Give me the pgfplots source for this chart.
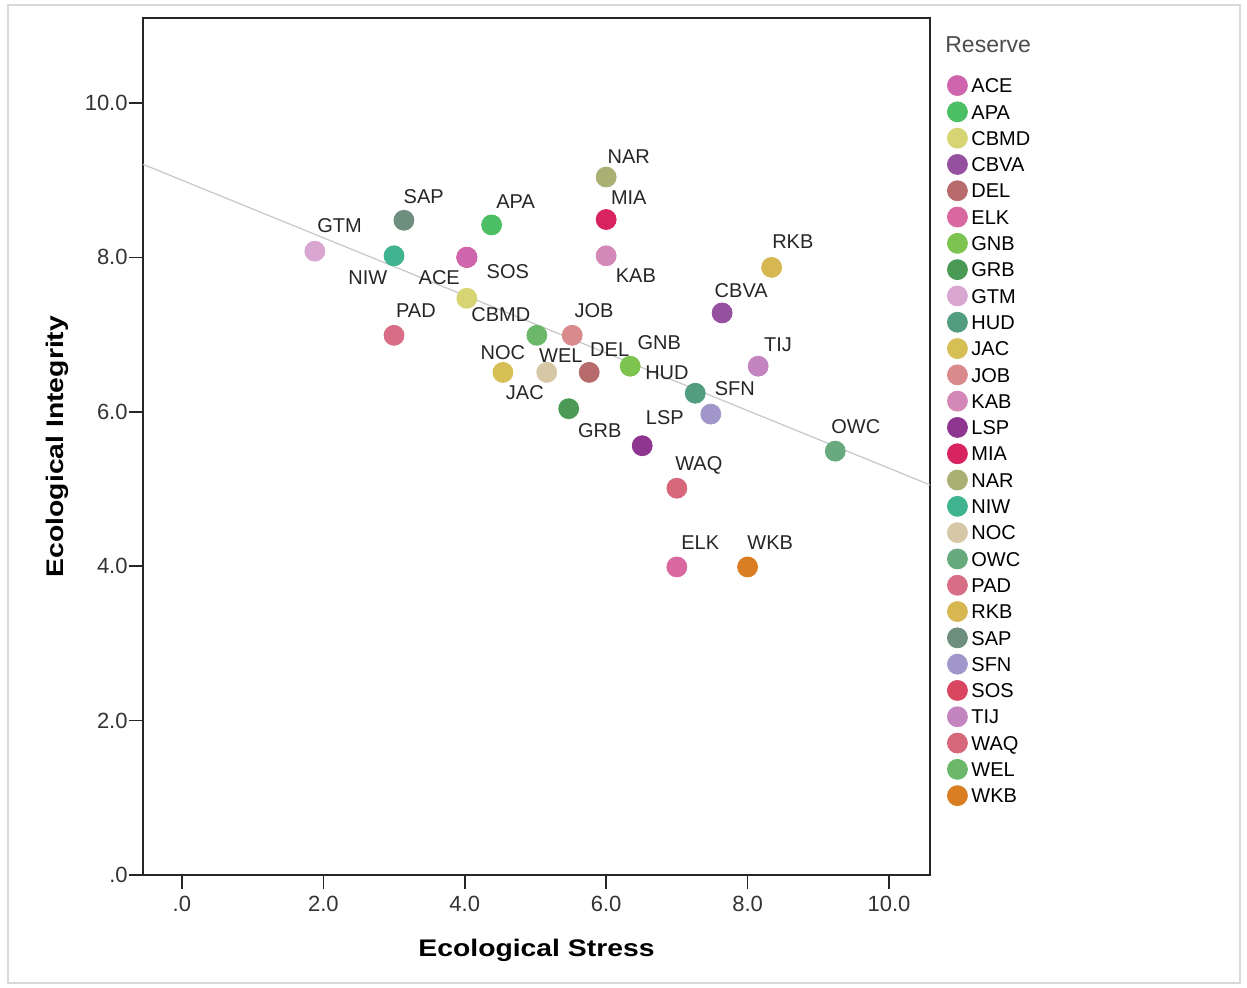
\documentclass[border=0pt]{standalone}
\usepackage{pgfplots}
\pgfplotsset{compat=1.18}
\usepackage{fontspec}
\setmainfont{Liberation Sans}
\newfontfamily\labfont[FakeStretch=1.18]{Liberation Sans}
\definecolor{cACE}{HTML}{CF66AD}
\definecolor{cAPA}{HTML}{4CBF64}
\definecolor{cCBMD}{HTML}{D6D473}
\definecolor{cCBVA}{HTML}{9650A0}
\definecolor{cDEL}{HTML}{B76B6C}
\definecolor{cELK}{HTML}{D8689F}
\definecolor{cGNB}{HTML}{7CC350}
\definecolor{cGRB}{HTML}{4A9A55}
\definecolor{cGTM}{HTML}{D8A6D0}
\definecolor{cHUD}{HTML}{529C7F}
\definecolor{cJAC}{HTML}{D6BF55}
\definecolor{cJOB}{HTML}{D88A8C}
\definecolor{cKAB}{HTML}{D488B8}
\definecolor{cLSP}{HTML}{8E3590}
\definecolor{cMIA}{HTML}{D72460}
\definecolor{cNAR}{HTML}{AAAF73}
\definecolor{cNIW}{HTML}{40B48F}
\definecolor{cNOC}{HTML}{D6C7A6}
\definecolor{cOWC}{HTML}{68AA7E}
\definecolor{cPAD}{HTML}{D86E86}
\definecolor{cRKB}{HTML}{D6B752}
\definecolor{cSAP}{HTML}{6E8F7E}
\definecolor{cSFN}{HTML}{A196CA}
\definecolor{cSOS}{HTML}{D84660}
\definecolor{cTIJ}{HTML}{C384BF}
\definecolor{cWAQ}{HTML}{D7687C}
\definecolor{cWEL}{HTML}{6CB86A}
\definecolor{cWKB}{HTML}{D97E23}
\begin{document}
\begin{tikzpicture}
\useasboundingbox (0,0) rectangle (623.5pt,-493.5pt);
\draw[black!15, line width=1pt] (4pt,-2.5pt) rectangle (620pt,-491.5pt);
\begin{axis}[
  at={(71.5pt,-437.5pt)}, anchor=south west,
  scale only axis, width=393.5pt, height=428.5pt,
  xmin=-0.55, xmax=10.58, ymin=0, ymax=11.1,
  axis line style={black!85, line width=0.9pt},
  xtick={0,2,4,6,8,10}, xticklabels={.0,2.0,4.0,6.0,8.0,10.0},
  ytick={0,2,4,6,8,10}, yticklabels={.0,2.0,4.0,6.0,8.0,10.0},
  tick align=outside, major tick length=7pt,
  xtick pos=bottom, ytick pos=left,
  tick style={black!85, line width=0.8pt},
  ticklabel style={font=\fontsize{11}{13}\selectfont, text=black!80},
  yticklabel style={inner sep=0.5pt},
  /pgf/number format/assume math mode=true,
  xlabel={\labfont\bfseries Ecological Stress}, ylabel={\labfont\bfseries Ecological Integrity},
  label style={font=\fontsize{12}{15}\selectfont},
  xlabel style={yshift=-7pt}, ylabel style={yshift=4pt},
  clip=false,
  legend style={draw=none, fill=none, at={(axis description cs:1.014,0.938)}, anchor=north west,
    font=\fontsize{10}{12}\selectfont, nodes={inner sep=0pt, text height=7.2pt, text depth=0pt},
    row sep=3.15pt,
    /tikz/every odd column/.append style={column sep=2pt}},
  legend cell align=left,
  legend image code/.code={\draw[#1, mark repeat=1] plot coordinates {(5pt,0pt)};},
]
\addplot[black!22, line width=0.6pt, forget plot] coordinates {(-0.55,9.205) (10.58,5.053)};
\addplot[mark=*, mark size=5pt, color=cACE] coordinates {(4.03,8.00)}; \addlegendentry{ACE}
\addplot[mark=*, mark size=5pt, color=cAPA] coordinates {(4.38,8.42)}; \addlegendentry{APA}
\addplot[mark=*, mark size=5pt, color=cCBMD] coordinates {(4.03,7.47)}; \addlegendentry{CBMD}
\addplot[mark=*, mark size=5pt, color=cCBVA] coordinates {(7.64,7.28)}; \addlegendentry{CBVA}
\addplot[mark=*, mark size=5pt, color=cDEL] coordinates {(5.76,6.51)}; \addlegendentry{DEL}
\addplot[mark=*, mark size=5pt, color=cELK] coordinates {(7.00,3.99)}; \addlegendentry{ELK}
\addplot[mark=*, mark size=5pt, color=cGNB] coordinates {(6.34,6.59)}; \addlegendentry{GNB}
\addplot[mark=*, mark size=5pt, color=cGRB] coordinates {(5.47,6.04)}; \addlegendentry{GRB}
\addplot[mark=*, mark size=5pt, color=cGTM] coordinates {(1.88,8.08)}; \addlegendentry{GTM}
\addplot[mark=*, mark size=5pt, color=cHUD] coordinates {(7.26,6.24)}; \addlegendentry{HUD}
\addplot[mark=*, mark size=5pt, color=cJAC] coordinates {(4.54,6.51)}; \addlegendentry{JAC}
\addplot[mark=*, mark size=5pt, color=cJOB] coordinates {(5.52,6.99)}; \addlegendentry{JOB}
\addplot[mark=*, mark size=5pt, color=cKAB] coordinates {(6.00,8.02)}; \addlegendentry{KAB}
\addplot[mark=*, mark size=5pt, color=cLSP] coordinates {(6.51,5.56)}; \addlegendentry{LSP}
\addplot[mark=*, mark size=5pt, color=cMIA] coordinates {(6.00,8.49)}; \addlegendentry{MIA}
\addplot[mark=*, mark size=5pt, color=cNAR] coordinates {(6.00,9.04)}; \addlegendentry{NAR}
\addplot[mark=*, mark size=5pt, color=cNIW] coordinates {(3.00,8.02)}; \addlegendentry{NIW}
\addplot[mark=*, mark size=5pt, color=cNOC] coordinates {(5.16,6.51)}; \addlegendentry{NOC}
\addplot[mark=*, mark size=5pt, color=cOWC] coordinates {(9.24,5.49)}; \addlegendentry{OWC}
\addplot[mark=*, mark size=5pt, color=cPAD] coordinates {(3.00,6.99)}; \addlegendentry{PAD}
\addplot[mark=*, mark size=5pt, color=cRKB] coordinates {(8.34,7.87)}; \addlegendentry{RKB}
\addplot[mark=*, mark size=5pt, color=cSAP] coordinates {(3.14,8.48)}; \addlegendentry{SAP}
\addplot[mark=*, mark size=5pt, color=cSFN] coordinates {(7.48,5.97)}; \addlegendentry{SFN}
\addplot[mark=*, mark size=5pt, color=cSOS] coordinates {(4.03,8.00)}; \addlegendentry{SOS}
\addplot[mark=*, mark size=5pt, color=cTIJ] coordinates {(8.15,6.59)}; \addlegendentry{TIJ}
\addplot[mark=*, mark size=5pt, color=cWAQ] coordinates {(7.00,5.01)}; \addlegendentry{WAQ}
\addplot[mark=*, mark size=5pt, color=cWEL] coordinates {(5.02,6.99)}; \addlegendentry{WEL}
\addplot[mark=*, mark size=5pt, color=cWKB] coordinates {(8.00,3.99)}; \addlegendentry{WKB}
\addplot[mark=*, mark size=5pt, color=cACE, forget plot] coordinates {(4.03,8.00)};
\begin{scope}[every node/.style={font=\fontsize{10}{12}\selectfont, text=black!85, inner sep=0pt}]
\node at (axis cs:6.32,9.30) {NAR};
\node at (axis cs:6.32,8.78) {MIA};
\node at (axis cs:3.42,8.79) {SAP};
\node at (axis cs:4.72,8.72) {APA};
\node at (axis cs:2.23,8.41) {GTM};
\node at (axis cs:2.63,7.74) {NIW};
\node at (axis cs:3.64,7.74) {ACE};
\node at (axis cs:4.61,7.81) {SOS};
\node at (axis cs:6.42,7.76) {KAB};
\node at (axis cs:8.64,8.21) {RKB};
\node at (axis cs:7.91,7.57) {CBVA};
\node at (axis cs:3.31,7.31) {PAD};
\node at (axis cs:4.51,7.26) {CBMD};
\node at (axis cs:5.83,7.31) {JOB};
\node at (axis cs:6.75,6.90) {GNB};
\node at (axis cs:8.43,6.87) {TIJ};
\node at (axis cs:4.54,6.76) {NOC};
\node at (axis cs:5.36,6.73) {WEL};
\node at (axis cs:6.05,6.81) {DEL};
\node at (axis cs:6.86,6.50) {HUD};
\node at (axis cs:4.85,6.25) {JAC};
\node at (axis cs:7.82,6.30) {SFN};
\node at (axis cs:5.91,5.75) {GRB};
\node at (axis cs:6.83,5.92) {LSP};
\node at (axis cs:9.53,5.81) {OWC};
\node at (axis cs:7.31,5.30) {WAQ};
\node at (axis cs:7.33,4.30) {ELK};
\node at (axis cs:8.32,4.30) {WKB};
\end{scope}
\node[anchor=west, font=\fontsize{11.5}{14}\selectfont, text=black!70, inner sep=0pt] at (axis description cs:1.019,0.9685) {Reserve};
\end{axis}
\end{tikzpicture}
\end{document}
